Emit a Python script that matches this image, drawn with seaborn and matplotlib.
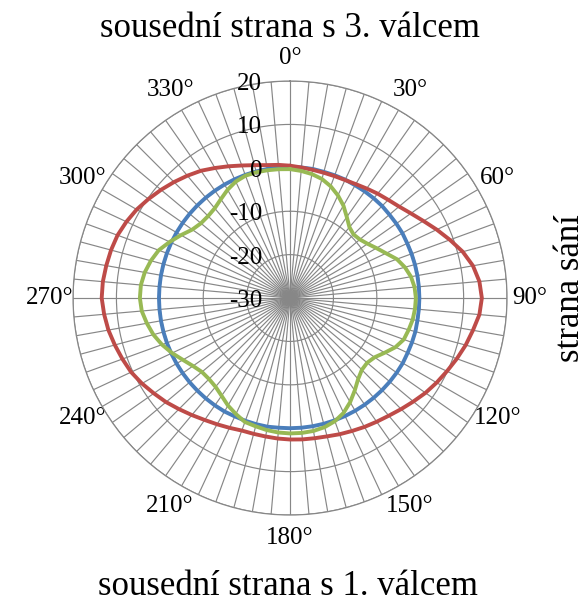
import numpy as np
import pandas as pd
import seaborn as sns
import matplotlib.pyplot as plt
from matplotlib.transforms import offset_copy

# angles in degrees, clockwise from the top
angles = list(range(0, 360, 5))

# reference circle (blue)
blue = [
    0.2, 0.2, 0.2, 0.1, 0.1, 0.1, 0.0, 0.0, 0.0, 0.0, -0.1, -0.1,
    -0.1, -0.2, -0.2, -0.2, -0.2, -0.2, -0.2, -0.2, -0.2, -0.1, -0.1, -0.1,
    0.0, 0.0, 0.0, 0.0, 0.0, 0.0, 0.0, 0.0, 0.0, 0.0, 0.0, 0.0,
    0.0, 0.0, 0.1, 0.1, 0.1, 0.1, 0.2, 0.2, 0.2, 0.2, 0.2, 0.2,
    0.2, 0.2, 0.2, 0.2, 0.2, 0.2, 0.2, 0.2, 0.2, 0.2, 0.2, 0.2,
    0.2, 0.2, 0.2, 0.2, 0.2, 0.2, 0.2, 0.2, 0.2, 0.2, 0.2, 0.2,
]

red = [
    0.5, 0.2, 0.0, -0.1, -0.1, 0.0, 0.3, 0.8, 1.4, 2.0, 2.8, 4.0,
    5.5, 7.3, 9.2, 11.2, 12.8, 13.8, 14.2, 13.8, 12.8, 11.9, 10.9, 9.9,
    9.0, 8.1, 7.1, 6.2, 5.4, 4.8, 4.3, 3.8, 3.4, 3.0, 2.8, 2.7,
    2.6, 2.5, 2.4, 2.4, 2.5, 3.0, 3.6, 4.3, 5.2, 6.2, 7.3, 8.3,
    9.4, 10.4, 11.1, 11.8, 12.5, 13.0, 13.4, 13.3, 13.0, 12.7, 12.3, 11.6,
    10.8, 9.8, 8.8, 7.8, 6.8, 5.8, 4.6, 3.5, 2.5, 1.7, 1.1, 0.8,
]

green = [
    -0.3, -0.6, -1.0, -1.6, -2.6, -3.9, -5.4, -7.2, -8.7, -9.3, -9.0, -8.2,
    -7.0, -5.6, -3.8, -2.6, -1.7, -1.2, -1.0, -1.1, -1.3, -1.7, -2.1, -3.2,
    -4.8, -6.2, -6.8, -6.6, -5.6, -4.0, -2.3, -0.8, 0.2, 0.8, 1.1, 1.2,
    1.2, 1.1, 0.9, 0.6, 0.4, -0.5, -1.4, -2.5, -3.3, -3.6, -3.5, -2.7,
    -1.5, 0.0, 1.4, 2.6, 3.5, 4.3, 4.6, 4.5, 4.0, 3.2, 2.2, 0.6,
    -1.0, -2.5, -3.2, -3.3, -3.0, -2.2, -1.2, -0.4, 0.0, 0.0, -0.1, -0.2,
]

r_ticks = [-30, -20, -10, 0, 10, 20]
theta_labels = ["0°", "30°", "60°", "90°", "120°", "150°",
                "180°", "210°", "240°", "270°", "300°", "330°"]

colors = {"blue": "#4a7ebb", "red": "#be4b48", "green": "#98b954"}

# long-form table, closing each loop by repeating the first point at 360°
rows = []
for name, vals in [("blue", blue), ("red", red), ("green", green)]:
    for a, v in zip(angles + [360], vals + [vals[0]]):
        rows.append({"theta": np.deg2rad(a), "value": v, "series": name})
df = pd.DataFrame(rows)

sns.set_style("white")
plt.rcParams["font.family"] = ["Liberation Serif", "DejaVu Serif"]
plt.rcParams["text.color"] = "black"
plt.rcParams["xtick.labelcolor"] = "black"

fig = plt.figure(figsize=(5.87, 6.03), dpi=100)
ax = fig.add_axes([0.1244, 0.1459, 0.7394, 0.7197], projection="polar")
ax.set_theta_zero_location("N")
ax.set_theta_direction(-1)

sns.lineplot(data=df, x="theta", y="value", hue="series", palette=colors,
             sort=False, estimator=None, legend=False, linewidth=2.8, ax=ax,
             zorder=3)

ax.set_ylim(r_ticks[0], r_ticks[-1])
ax.set_rgrids(r_ticks, labels=[""] * len(r_ticks))
ax.set_xticks(np.deg2rad(angles))
ax.set_xticklabels([theta_labels[i // 6] if i % 6 == 0 else "" for i in range(len(angles))],
                   fontsize=18, color="black")
ax.tick_params(axis="x", pad=6)
ax.set_xlabel("")
ax.set_ylabel("")
ax.grid(True, color="#878787", linewidth=0.85)
ax.spines["polar"].set_color("#878787")
ax.spines["polar"].set_linewidth(0.9)

# radial value labels to the left of the 0° spoke
lab_tr = offset_copy(ax.transData, fig=fig, x=-28, y=-3, units="dots")
for v in r_ticks:
    ax.text(0, v, str(v), transform=lab_tr, ha="right", va="center",
            fontsize=18, color="black")

fig.text(0.494, 1 - 37 / 603, "sousední strana s 3. válcem",
         ha="center", va="baseline", fontsize=25, color="black")
fig.text(0.491, 1 - 595 / 603, "sousední strana s 1. válcem",
         ha="center", va="baseline", fontsize=25, color="black")
fig.text(0.9727, 0.5224, "strana sání", ha="center", va="center",
         rotation=90, fontsize=25, color="black")

fig.savefig("out.png", dpi=100)
